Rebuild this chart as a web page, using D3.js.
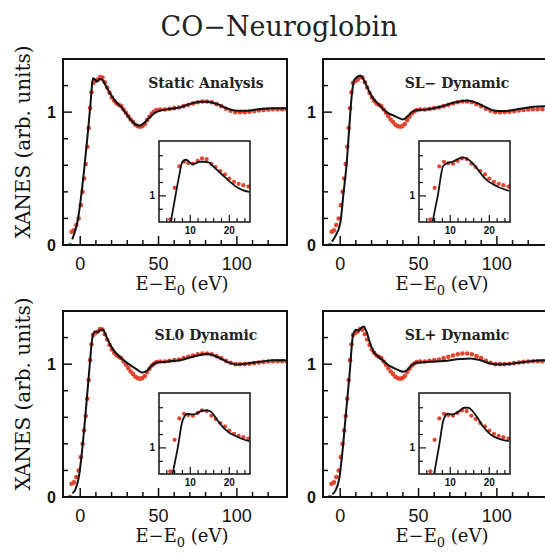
<!DOCTYPE html>
<html>
<head>
<meta charset="utf-8">
<script src="https://cdn.jsdelivr.net/npm/d3@7"></script>
<style>
  html, body { margin: 0; padding: 0; background: #fff; }
  svg { display: block; }
</style>
</head>
<body>
<svg id="chart" width="545" height="553"></svg>
<script>
// ---- data -------------------------------------------------------------
const panelNames = ["Static Analysis", "SL\u2212 Dynamic", "SL0 Dynamic", "SL+ Dynamic"];

// measured XANES spectrum [E-E0 (eV), normalized absorption]
const expE = [-6.5,-5.5,-4,-2.5,-1,0.4,1.5,2.5,3.5,4.5,5.4,6.3,7.2,8.2,9.7,11.2,12.7,14.2,15.7,17.2,18.7,20.2,21.7,23.2,24.7,26.2,27.7,29.2,30.7,32.2,33.7,35.2,36.7,38.2,39.7,41.2,42.7,44.2,45.7,47.2,48.7,51,54,57,60,63,66,69,72,75,78,81,84,87,90,93,96,99,102,105,108,111,114,117,120,123,126,129,132];
const expY = [0.0,0.10,0.11,0.15,0.2,0.3,0.4,0.5,0.61,0.74,0.88,1.03,1.15,1.22,1.235,1.245,1.265,1.26,1.225,1.185,1.145,1.11,1.085,1.065,1.055,1.045,1.02,0.995,0.97,0.945,0.925,0.905,0.895,0.89,0.895,0.91,0.94,0.965,0.99,1.005,1.015,1.02,1.02,1.025,1.03,1.035,1.045,1.055,1.065,1.075,1.08,1.08,1.075,1.06,1.045,1.025,1.01,1.0,1.0,1.0,1.003,1.008,1.012,1.017,1.02,1.022,1.022,1.022,1.022];

// calculated spectra, one per panel
const staticE = [-5.1,-3.6,-1.5,0.6,2.8,4.9,6.6,8.1,9.8,10.9,12.4,13.9,16.7,19.9,23.1,26.3,29.5,32.7,35.9,38.0,41.2,44.4,47.6,50.9,57.3,63.7,70.1,76.5,80.8,87.2,93.6,100,106.4,115,123.5,132];
const staticY = [0.043,0.093,0.19,0.37,0.60,0.85,1.07,1.255,1.24,1.23,1.25,1.245,1.19,1.125,1.074,1.036,0.986,0.936,0.903,0.898,0.923,0.961,0.994,1.011,1.024,1.036,1.062,1.079,1.079,1.062,1.029,1.011,1.011,1.024,1.029,1.029];

const slMinusE = [-5.3,-3.3,0,2.1,4.3,5.8,7.5,9,12.8,13.8,16,18.7,21.3,24.5,27.7,30.9,34,37.2,40,42.6,45.7,48.9,55.3,63.8,72.3,80.9,87.2,93.6,97.9,104.3,114.9,123.4,132];
const slMinusY = [0.025,0.063,0.163,0.39,0.64,0.89,1.143,1.243,1.273,1.266,1.22,1.15,1.10,1.058,1.02,0.99,0.975,0.957,0.945,0.965,1.0,1.015,1.02,1.04,1.07,1.088,1.07,1.033,1.013,1.008,1.025,1.04,1.045];

const slZeroE = [-5,-3,-0.9,1.1,3.2,5.6,7.8,9.4,11.3,12.8,14.5,16.7,19.9,23.1,26.3,29.5,32.7,35.9,39.7,42.3,45.5,48.7,55.1,63.7,72.2,80.8,87.2,93.6,100,106.4,115,123.5,132];
const slZeroY = [0.028,0.06,0.15,0.34,0.6,0.93,1.2,1.245,1.24,1.258,1.258,1.207,1.13,1.08,1.043,1.013,0.987,0.962,0.937,0.947,0.987,1.01,1.018,1.03,1.056,1.076,1.056,1.018,0.997,1.005,1.018,1.03,1.03];

const slPlusE = [-5,-3,-0.6,1.4,3.5,6,8.2,10.2,11.7,13.2,14.9,16.6,19.1,21.3,24.5,27.7,30.9,34,37.2,40.4,43,45.7,48.9,57.4,66,76.6,83,89.4,95.7,102.1,110.6,119.1,129.8,132];
const slPlusY = [0.02,0.05,0.14,0.34,0.61,0.93,1.22,1.258,1.252,1.27,1.283,1.25,1.157,1.093,1.056,1.023,0.992,0.972,0.955,0.942,0.96,0.992,1.01,1.018,1.023,1.038,1.043,1.03,1.005,0.997,1.005,1.018,1.03,1.03];

// edge region (inset): measured points
const insetExpE = [4.9,6.0,7.2,8.4,9.5,10.7,11.9,13.0,14.2,15.4,16.5,17.7,18.9,20.0,21.2,22.4,23.6,24.9];
const insetExpY = [0.825,1.06,1.22,1.255,1.245,1.24,1.262,1.28,1.275,1.24,1.215,1.185,1.16,1.13,1.105,1.09,1.08,1.07];

// edge region (inset): calculated curves
const insetStaticE = [5.04,5.9,7.0,8.0,8.9,9.7,10.6,11.5,12.3,13.6,14.7,15.7,17.0,18.3,19.6,20.9,22.1,23.4,25.1];
const insetStaticY = [0.81,0.95,1.125,1.255,1.27,1.255,1.237,1.245,1.255,1.255,1.25,1.225,1.19,1.155,1.12,1.088,1.063,1.043,1.03];
const insetSlMinusE = [5.5,6.8,8.2,9.3,10.6,12.3,13.2,14.4,15.7,17,18.3,19.6,20.9,22.6,25];
const insetSlMinusY = [0.81,1.0,1.225,1.245,1.255,1.28,1.287,1.275,1.245,1.2,1.15,1.112,1.088,1.063,1.038];
const insetSlZeroE = [5.5,6.8,8,9.3,10.6,11.6,12.7,14,15.3,16.2,17.4,18.7,20,21.3,23,25.1];
const insetSlZeroY = [0.81,1.0,1.2,1.255,1.25,1.255,1.275,1.28,1.27,1.238,1.19,1.145,1.113,1.093,1.07,1.05];
const insetSlPlusE = [5.9,7.2,8.2,9.3,10.4,11.5,12.3,13.6,14.7,15.7,17,18.3,19.6,20.9,22.6,25];
const insetSlPlusY = [0.81,1.025,1.2,1.255,1.25,1.26,1.275,1.3,1.3,1.275,1.225,1.163,1.12,1.088,1.068,1.05];

// axis ticks
const mainXMajor = [0, 50, 100];
const mainXMinor = [10, 20, 30, 40, 60, 70, 80, 90, 110, 120];
const mainYMajor = [0, 1];
const mainYMinor = [0.2, 0.4, 0.6, 0.8, 1.2];
const insetXMajor = [10, 20];
const insetXMinor = [4, 6, 8, 12, 14, 16, 18, 22, 24];
const insetYMajor = [1];
const insetYMinor = [0.9, 1.1, 1.2, 1.3];

const theory = [
  { e: staticE, y: staticY, ie: insetStaticE, iy: insetStaticY },
  { e: slMinusE, y: slMinusY, ie: insetSlMinusE, iy: insetSlMinusY },
  { e: slZeroE, y: slZeroY, ie: insetSlZeroE, iy: insetSlZeroY },
  { e: slPlusE, y: slPlusY, ie: insetSlPlusE, iy: insetSlPlusY }
];

// ---- layout ----------------------------------------------------------
const svg = d3.select("#chart");
const W = 224, H = 186;
const origins = [[63, 59], [323, 59], [63, 311], [323, 311]];
const inset = { dx: 96, dy: 82, w: 91, h: 81 };

const sans = "'Liberation Sans', Arial, sans-serif";
const serif = "'DejaVu Serif', serif";
const red = "#e4432e";

svg.append("text")
  .attr("x", 279).attr("y", 36)
  .attr("text-anchor", "middle")
  .attr("font-family", serif)
  .attr("font-size", 27)
  .attr("fill", "#222")
  .text("CO\u2212Neuroglobin");

const defs = svg.append("defs");

function drawTicks(g, xs, ys, xMaj, xMin, yMaj, yMin, h, lenMaj, lenMin) {
  xMaj.forEach(v => g.append("line").attr("x1", xs(v)).attr("x2", xs(v)).attr("y1", h).attr("y2", h - lenMaj));
  xMin.forEach(v => g.append("line").attr("x1", xs(v)).attr("x2", xs(v)).attr("y1", h).attr("y2", h - lenMin));
  yMaj.forEach(v => g.append("line").attr("x1", 0).attr("x2", lenMaj).attr("y1", ys(v)).attr("y2", ys(v)));
  yMin.forEach(v => g.append("line").attr("x1", 0).attr("x2", lenMin).attr("y1", ys(v)).attr("y2", ys(v)));
}

panelNames.forEach((name, i) => {
  const [ox, oy] = origins[i];
  const g = svg.append("g").attr("transform", `translate(${ox},${oy})`);
  const x = d3.scaleLinear().domain([-11, 132]).range([0, W]);
  const y = d3.scaleLinear().domain([0, 1.4]).range([H, 0]);

  const clipId = "clip" + i;
  defs.append("clipPath").attr("id", clipId)
    .append("rect").attr("x", 0).attr("y", 0).attr("width", W).attr("height", H);

  const plot = g.append("g").attr("clip-path", `url(#${clipId})`);
  const exp = d3.zip(expE, expY);
  plot.selectAll("circle").data(exp).join("circle")
    .attr("cx", d => x(d[0])).attr("cy", d => y(d[1])).attr("r", 2.3)
    .attr("fill", red);
  const line = d3.line().x(d => x(d[0])).y(d => y(d[1])).curve(d3.curveMonotoneX);
  plot.append("path").datum(d3.zip(theory[i].e, theory[i].y))
    .attr("d", line).attr("fill", "none").attr("stroke", "#111").attr("stroke-width", 2);

  const tk = g.append("g").attr("stroke", "#111").attr("stroke-width", 1.5);
  drawTicks(tk, x, y, mainXMajor, mainXMinor, mainYMajor, mainYMinor, H, 9, 5);

  g.append("rect").attr("width", W).attr("height", H)
    .attr("fill", "none").attr("stroke", "#111").attr("stroke-width", 2);

  // tick labels
  mainXMajor.forEach(v => g.append("text")
    .attr("x", x(v)).attr("y", H + 25).attr("text-anchor", "middle")
    .attr("font-family", sans).attr("font-size", 18).attr("fill", "#111").text(v));
  mainYMajor.forEach(v => g.append("text")
    .attr("x", -7).attr("y", y(v) + 6).attr("text-anchor", "end")
    .attr("font-family", sans).attr("font-weight", "bold").attr("font-size", 16).attr("fill", "#111").text(v));

  // axis titles
  const xt = g.append("text").attr("x", 119).attr("y", H + 45)
    .attr("text-anchor", "middle").attr("font-family", serif).attr("font-size", 18).attr("fill", "#111");
  xt.append("tspan").text("E\u2212E");
  xt.append("tspan").attr("font-size", 13).attr("dy", 5).text("0");
  xt.append("tspan").attr("dy", -5).text(" (eV)");

  if (i % 2 === 0) {
    g.append("text")
      .attr("transform", `translate(${-33},${H - 103}) rotate(-90)`)
      .attr("text-anchor", "middle").attr("font-family", serif).attr("font-size", 20).attr("fill", "#111")
      .text("XANES (arb. units)");
  }

  // panel label
  g.append("text").attr("x", i % 2 === 0 ? 143 : 134).attr("y", 29)
    .attr("text-anchor", "middle").attr("font-family", serif).attr("font-weight", "bold")
    .attr("font-size", 14).attr("fill", "#222").text(name);

  // inset
  const ig = g.append("g").attr("transform", `translate(${inset.dx},${inset.dy})`);
  const ix = d3.scaleLinear().domain([2, 25.3]).range([0, inset.w]);
  const iy = d3.scaleLinear().domain([0.805, 1.41]).range([inset.h, 0]);
  const iclip = "iclip" + i;
  defs.append("clipPath").attr("id", iclip)
    .append("rect").attr("width", inset.w).attr("height", inset.h);
  ig.append("rect").attr("width", inset.w).attr("height", inset.h).attr("fill", "#fff");
  const ip = ig.append("g").attr("clip-path", `url(#${iclip})`);
  ip.selectAll("circle").data(d3.zip(insetExpE, insetExpY)).join("circle")
    .attr("cx", d => ix(d[0])).attr("cy", d => iy(d[1])).attr("r", 2.1).attr("fill", red);
  const iline = d3.line().x(d => ix(d[0])).y(d => iy(d[1])).curve(d3.curveMonotoneX);
  ip.append("path").datum(d3.zip(theory[i].ie, theory[i].iy))
    .attr("d", iline).attr("fill", "none").attr("stroke", "#111").attr("stroke-width", 1.8);
  const itk = ig.append("g").attr("stroke", "#111").attr("stroke-width", 1.2);
  drawTicks(itk, ix, iy, insetXMajor, insetXMinor, insetYMajor, insetYMinor, inset.h, 7, 4);
  ig.append("rect").attr("width", inset.w).attr("height", inset.h)
    .attr("fill", "none").attr("stroke", "#111").attr("stroke-width", 1.5);
  insetXMajor.forEach(v => ig.append("text")
    .attr("x", ix(v)).attr("y", inset.h + 12).attr("text-anchor", "middle")
    .attr("font-family", sans).attr("font-weight", "bold").attr("font-size", 10).attr("fill", "#111").text(v));
  insetYMajor.forEach(v => ig.append("text")
    .attr("x", -4).attr("y", iy(v) + 3.5).attr("text-anchor", "end")
    .attr("font-family", sans).attr("font-weight", "bold").attr("font-size", 10).attr("fill", "#111").text(v));
});
</script>
</body>
</html>
